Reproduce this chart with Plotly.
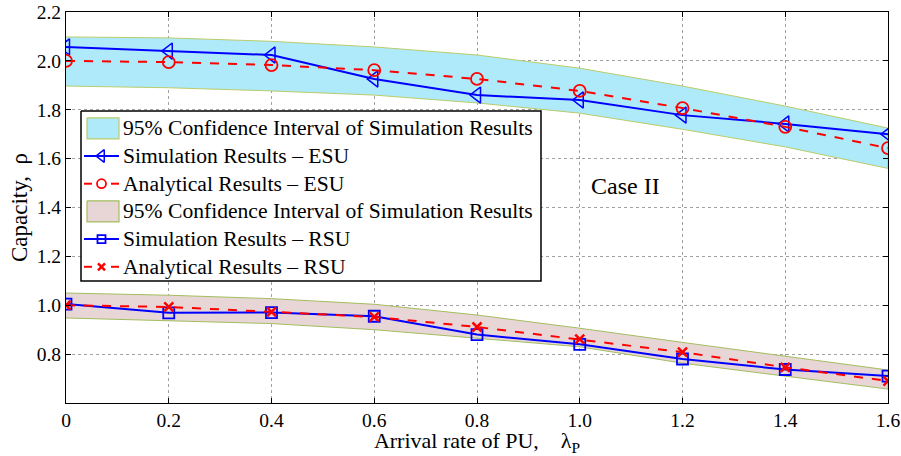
import plotly.graph_objects as go

# Arrival rate of PU (lambda_P)
arrival_rate = [0, 0.2, 0.4, 0.6, 0.8, 1.0, 1.2, 1.4, 1.6]

# ESU capacity
esu_sim = [2.057, 2.040, 2.024, 1.926, 1.860, 1.840, 1.778, 1.742, 1.700]
esu_ana = [2.000, 1.995, 1.983, 1.962, 1.926, 1.877, 1.807, 1.730, 1.643]
esu_ci_upper = [2.098, 2.094, 2.080, 2.057, 2.024, 1.970, 1.897, 1.815, 1.725]
esu_ci_lower = [1.897, 1.890, 1.877, 1.860, 1.828, 1.786, 1.720, 1.648, 1.560]

# RSU capacity
rsu_sim = [1.005, 0.969, 0.970, 0.955, 0.880, 0.840, 0.780, 0.737, 0.710]
rsu_ana = [1.000, 0.993, 0.973, 0.952, 0.911, 0.861, 0.808, 0.746, 0.690]
rsu_ci_upper = [1.050, 1.041, 1.027, 1.004, 0.960, 0.906, 0.848, 0.790, 0.735]
rsu_ci_lower = [0.948, 0.936, 0.925, 0.900, 0.865, 0.830, 0.763, 0.710, 0.657]

x_ticks = [0, 0.2, 0.4, 0.6, 0.8, 1.0, 1.2, 1.4, 1.6]
x_tick_labels = ["0", "0.2", "0.4", "0.6", "0.8", "1.0", "1.2", "1.4", "1.6"]
y_ticks = [0.8, 1.0, 1.2, 1.4, 1.6, 1.8, 2.0, 2.2]
y_tick_labels = ["0.8", "1.0", "1.2", "1.4", "1.6", "1.8", "2.0", "2.2"]

FONT = "Liberation Serif"
BLUE = "#0000ff"
RED = "#ff0000"
ESU_FILL, ESU_EDGE = "#aeeaf9", "#b9cc6a"
RSU_FILL, RSU_EDGE = "#e8d6d6", "#a3bd5e"
CI_NAME = "95% Confidence Interval of Simulation Results"

# Page geometry (pixels) of the plotting area
W, H = 901, 456
M_L, M_R, M_T, M_B = 66, 13, 12, 53
PX_LEFT, PX_RIGHT = M_L, W - M_R
PX_TOP, PX_BOTTOM = M_T, H - M_B

styles = {
    "esu_sim": dict(line=dict(color=BLUE, width=2),
                    marker=dict(symbol="triangle-left-open", size=14, color=BLUE, line=dict(width=1.5))),
    "esu_ana": dict(line=dict(color=RED, width=2, dash="dash"),
                    marker=dict(symbol="circle-open", size=12, color=RED, line=dict(width=1.8))),
    "rsu_sim": dict(line=dict(color=BLUE, width=2),
                    marker=dict(symbol="square-open", size=11, color=BLUE, line=dict(width=1.8))),
    "rsu_ana": dict(line=dict(color=RED, width=2, dash="dash"),
                    marker=dict(symbol="x-thin-open", size=9, color=RED, line=dict(width=2.5, color=RED))),
}

fig = go.Figure()


def band(upper, lower, fill, edge):
    xs = list(arrival_rate) + list(arrival_rate)[::-1]
    ys = list(upper) + list(lower)[::-1]
    fig.add_trace(go.Scatter(
        x=xs, y=ys, mode="lines", fill="toself", fillcolor=fill,
        line=dict(color=edge, width=1), showlegend=False, hoverinfo="skip"))


def series(values, key, name):
    fig.add_trace(go.Scatter(x=arrival_rate, y=values, mode="lines+markers",
                             name=name, showlegend=False, **styles[key]))


band(esu_ci_upper, esu_ci_lower, ESU_FILL, ESU_EDGE)
series(esu_sim, "esu_sim", "Simulation Results – ESU")
series(esu_ana, "esu_ana", "Analytical Results – ESU")
band(rsu_ci_upper, rsu_ci_lower, RSU_FILL, RSU_EDGE)
series(rsu_sim, "rsu_sim", "Simulation Results – RSU")
series(rsu_ana, "rsu_ana", "Analytical Results – RSU")

fig.add_annotation(x=1.09, y=1.49, text="Case II", showarrow=False,
                   font=dict(family=FONT, size=24, color="black"))

# ---- legend box drawn on a pixel-unit overlay axis ----
LEG = dict(x0=81, x1=541, y0=111, y1=281, row0=128.3, row_step=27.7,
           sample_x0=84, sample_x1=119, text_x=121, font=21.6)
legend_rows = [
    ("band", ESU_FILL, ESU_EDGE, CI_NAME),
    ("line", "esu_sim", None, "Simulation Results – ESU"),
    ("line", "esu_ana", None, "Analytical Results – ESU"),
    ("band", RSU_FILL, RSU_EDGE, CI_NAME),
    ("line", "rsu_sim", None, "Simulation Results – RSU"),
    ("line", "rsu_ana", None, "Analytical Results – RSU"),
]

ov = dict(xaxis="x2", yaxis="y2", showlegend=False, hoverinfo="skip")
fig.add_trace(go.Scatter(
    x=[LEG["x0"], LEG["x1"], LEG["x1"], LEG["x0"], LEG["x0"]],
    y=[LEG["y0"], LEG["y0"], LEG["y1"], LEG["y1"], LEG["y0"]],
    mode="lines", fill="toself", fillcolor="white",
    line=dict(color="black", width=1.5), **ov))

for i, (kind, a, b, label) in enumerate(legend_rows):
    yc = LEG["row0"] + i * LEG["row_step"]
    xs0, xs1 = LEG["sample_x0"] + 3, LEG["sample_x1"]
    if kind == "band":
        fig.add_trace(go.Scatter(
            x=[xs0, xs1, xs1, xs0, xs0],
            y=[yc - 10.5, yc - 10.5, yc + 10.5, yc + 10.5, yc - 10.5],
            mode="lines", fill="toself", fillcolor=a,
            line=dict(color=b, width=1.2), **ov))
    else:
        st = styles[a]
        xm = (LEG["sample_x0"] + LEG["sample_x1"]) / 2
        line_style = dict(st["line"])
        if line_style.get("dash"):
            line_style.pop("dash")
            lx = [LEG["sample_x0"], LEG["sample_x0"] + 8, None,
                  LEG["sample_x1"] - 8, LEG["sample_x1"]]
            ly = [yc, yc, None, yc, yc]
        else:
            lx = [LEG["sample_x0"], LEG["sample_x1"]]
            ly = [yc, yc]
        fig.add_trace(go.Scatter(x=lx, y=ly, mode="lines", line=line_style, **ov))
        mk = dict(st["marker"])
        mk["size"] = max(mk["size"] - 3, 7)
        fig.add_trace(go.Scatter(x=[xm], y=[yc], mode="markers", marker=mk, **ov))
    fig.add_annotation(x=LEG["text_x"], y=yc, xref="x2", yref="y2",
                       text=label, showarrow=False, xanchor="left", yanchor="middle",
                       font=dict(family=FONT, size=LEG["font"], color="black"))

axis_common = dict(
    showline=True, linecolor="black", linewidth=1, mirror="ticks",
    ticks="inside", ticklen=5, tickcolor="black", automargin=False,
    ticklabeloverflow="allow",
    showgrid=True, gridcolor="#a0a0a0", gridwidth=1, griddash="dot",
    zeroline=False, tickfont=dict(family=FONT, size=19.5, color="black"),
)

fig.update_xaxes(
    range=[0, 1.6], tickvals=x_ticks, ticktext=x_tick_labels,
    title=dict(text="Arrival rate of PU,\u00a0\u00a0\u00a0\u00a0λ<sub>P</sub>", standoff=3,
               font=dict(family=FONT, size=22, color="black")),
    **axis_common)
fig.update_yaxes(
    range=[0.6, 2.2], tickvals=y_ticks, ticktext=y_tick_labels,
    title=dict(text="Capacity,\u00a0\u00a0ρ", standoff=2,
               font=dict(family=FONT, size=23, color="black")),
    **axis_common)

fig.update_layout(
    width=W, height=H,
    margin=dict(l=M_L, r=M_R, t=M_T, b=M_B),
    paper_bgcolor="white", plot_bgcolor="white",
    showlegend=False,
    xaxis2=dict(overlaying="x", range=[PX_LEFT, PX_RIGHT], visible=False,
                fixedrange=True),
    yaxis2=dict(overlaying="y", range=[PX_BOTTOM, PX_TOP], visible=False,
                fixedrange=True),
)

fig.write_html("out.html")
